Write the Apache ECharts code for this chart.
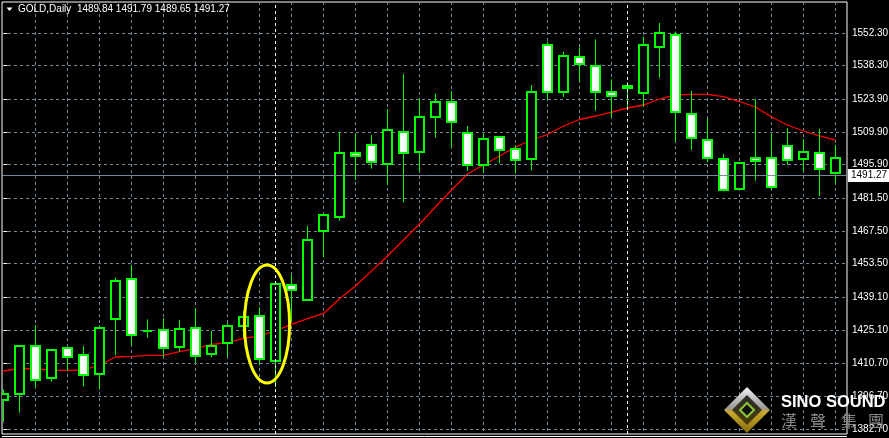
<!DOCTYPE html>
<html><head><meta charset="utf-8">
<script src="https://cdn.jsdelivr.net/npm/echarts@6/dist/echarts.min.js"></script>
<style>html,body{margin:0;padding:0;background:#000;}#c{width:889px;height:438px;}</style>
</head><body><div id="c"></div>
<script>
// ---- data ----
const symbolTitle = 'GOLD,Daily';
const titleOHLC = '1489.84 1491.79 1489.65 1491.27';
const opens  = [1395.00,1397.56,1418.38,1404.41,1417.26,1414.26,1406.13,1429.68,1446.81,1424.67,
                1424.97,1417.69,1425.83,1414.69,1419.40,1426.68,1430.97,1411.69,1444.24,1437.82,
                1467.63,1473.62,1500.78,1504.20,1496.07,1509.77,1501.46,1516.19,1522.62,1509.34,
                1495.64,1507.63,1502.49,1498.21,1547.03,1527.16,1541.89,1538.04,1526.90,1529.47,
                1526.47,1546.43,1551.31,1517.48,1506.34,1498.21,1485.36,1498.64,1498.64,1503.77,
                1498.21,1500.78,1492.47];
const closes = [1397.56,1418.38,1403.56,1416.41,1413.41,1405.70,1425.83,1445.96,1422.83,1424.67,
                1417.26,1425.40,1413.84,1418.38,1426.68,1430.54,1412.55,1444.67,1442.10,1463.52,
                1474.22,1500.78,1499.49,1496.92,1510.63,1500.78,1516.19,1522.62,1514.05,1495.64,
                1506.77,1502.06,1497.78,1526.90,1526.90,1542.32,1538.89,1526.90,1525.19,1528.61,
                1547.03,1552.17,1518.34,1507.20,1498.64,1484.93,1496.49,1497.35,1486.22,1497.78,
                1501.20,1493.92,1498.64];
const lows   = [1385.80,1389.68,1400.56,1402.96,1407.67,1400.82,1399.70,1414.26,1418.68,1421.80,
                1413.41,1415.80,1411.10,1413.41,1413.66,1421.97,1410.11,1400.56,1429.00,1437.82,
                1456.24,1471.91,1489.34,1494.18,1487.33,1479.62,1492.90,1507.46,1503.35,1493.20,
                1492.47,1496.49,1492.21,1493.32,1523.90,1524.89,1531.44,1519.02,1516.19,1519.32,
                1521.03,1533.15,1505.75,1502.19,1496.92,1484.50,1485.06,1489.04,1485.36,1495.77,
                1492.90,1482.49,1487.93];
const highs  = [1399.70,1418.60,1427.24,1416.96,1417.60,1418.25,1427.11,1447.67,1452.94,1429.68,
                1430.11,1429.38,1434.39,1424.67,1427.97,1433.24,1434.82,1445.00,1448.66,1469.64,
                1474.30,1509.77,1509.34,1508.61,1519.75,1534.74,1524.16,1526.47,1527.46,1512.47,
                1509.34,1507.80,1504.20,1530.03,1548.57,1544.29,1546.17,1549.60,1532.47,1531.19,
                1550.71,1556.58,1552.86,1527.46,1515.47,1500.48,1496.60,1523.90,1509.34,1511.48,
                1506.90,1511.18,1504.33];
const maValues = [1407.54,1408.61,1408.40,1407.97,1407.84,1407.97,1410.11,1413.54,1413.84,1414.26,
                  1414.26,1415.81,1417.09,1418.98,1419.66,1421.54,1422.60,1424.70,1427.50,1430.00,
                  1432.20,1438.50,1443.94,1450.37,1456.79,1463.64,1470.50,1477.78,1485.06,1491.91,
                  1495.77,1499.62,1503.47,1506.47,1508.83,1512.47,1515.25,1516.75,1518.46,1520.18,
                  1521.46,1524.03,1525.75,1526.05,1526.05,1525.02,1522.96,1520.61,1516.32,1512.90,
                  1510.33,1508.19,1506.47];
const yTickLabels = [1382.70,1396.70,1410.70,1425.10,1439.10,1453.50,1467.50,1481.50,1495.90,1509.90,1523.90,1538.30,1552.30];
const xGridIndices = [2,4,6,8,10,12,14,16,18,20,22,24,26,28,30,32,34,36,38,40,42,44,46,48,50,52];
const periodSeparators = [17, 39];
const lastPrice = 1491.27;
const highlightBox = {x0: 15.06, x1: 17.88, y0: 1402.4, y1: 1452.9};

// ---- chart ----
const FONT = '"Liberation Sans", Arial, sans-serif';
const candleData = opens.map((o, i) => [i, o, closes[i], lows[i], highs[i]]);
const maData = maValues.map((v, i) => [i, v]);
const gridLine = {color: '#778899', type: [3, 3], width: 1};

const chart = echarts.init(document.getElementById('c'), null, {renderer: 'canvas'});
chart.setOption({
  animation: false,
  backgroundColor: '#000',
  grid: {left: 2, top: 2, right: 42, bottom: 4, show: true, borderColor: '#fff', borderWidth: 1,
         backgroundColor: '#000', containLabel: false, outerBoundsMode: 'none'},
  xAxis: {
    type: 'value', min: -0.09375, max: 52.71875,
    axisLine: {show: false}, axisLabel: {show: false},
    axisTick: {show: false, customValues: xGridIndices},
    splitLine: {show: true, lineStyle: gridLine}
  },
  yAxis: {
    type: 'value', position: 'right', min: 1380.5586, max: 1565.5768, scale: true,
    axisLine: {show: false},
    axisTick: {show: true, length: 4, lineStyle: {color: '#fff'}, customValues: yTickLabels},
    axisLabel: {customValues: yTickLabels, color: '#fff', fontSize: 10, fontFamily: FONT, margin: 5,
                formatter: v => Number(v).toFixed(2)},
    splitLine: {show: true, lineStyle: gridLine}
  },
  series: [
    {
      type: 'custom', clip: true, z: 3,
      data: candleData,
      encode: {x: 0, y: [1, 2, 3, 4]},
      renderItem: function (params, api) {
        const x = api.value(0), o = api.value(1), c = api.value(2), l = api.value(3), h = api.value(4);
        const po = api.coord([x, o]), pc = api.coord([x, c]), pl = api.coord([x, l]), ph = api.coord([x, h]);
        const cx = Math.round(po[0] - 0.5) + 0.5;
        const top = Math.round(Math.min(po[1], pc[1]));
        const bot = Math.round(Math.max(po[1], pc[1]));
        const bull = c > o;
        return {type: 'group', children: [
          {type: 'line', shape: {x1: cx, y1: ph[1], x2: cx, y2: pl[1]}, style: {stroke: '#00ff00', lineWidth: 1}},
          {type: 'rect', shape: {x: cx - 4.5, y: top, width: 9, height: bot - top},
           style: {fill: bull ? '#000' : '#fff', stroke: '#00ff00', lineWidth: 2}}
        ]};
      }
    },
    {
      type: 'line', data: maData, showSymbol: false, symbol: 'none', z: 2,
      lineStyle: {color: '#ff0000', width: 1.3}, silent: true,
      markLine: {
        silent: true, symbol: ['none', 'none'], animation: false,
        data: [
          {yAxis: lastPrice, lineStyle: {color: '#778899', type: 'solid', width: 1},
           label: {show: true, position: 'end', formatter: lastPrice.toFixed(2), color: '#000',
                   backgroundColor: '#fff', padding: [2, 3, 1, 3], distance: 1, fontSize: 10, fontFamily: FONT}},
          ...periodSeparators.map(k => ({xAxis: k, lineStyle: {color: '#fff', type: [3, 3], width: 1}, label: {show: false}}))
        ]
      }
    }
  ]
});

// ---- annotations / decoration ----
const p0 = chart.convertToPixel({xAxisIndex: 0, yAxisIndex: 0}, [highlightBox.x0, highlightBox.y1]);
const p1 = chart.convertToPixel({xAxisIndex: 0, yAxisIndex: 0}, [highlightBox.x1, highlightBox.y0]);
const ecx = (p0[0] + p1[0]) / 2, ecy = (p0[1] + p1[1]) / 2;
const erx = Math.abs(p1[0] - p0[0]) / 2, ery = Math.abs(p1[1] - p0[1]) / 2;

chart.setOption({
  graphic: [
    {type: 'ellipse', z: 50, shape: {cx: ecx, cy: ecy, rx: erx, ry: ery}, style: {fill: null, stroke: '#ffff00', lineWidth: 3}},
    {type: 'polygon', z: 50, shape: {points: [[6.5, 7.5], [12.5, 7.5], [9.5, 11]]}, style: {fill: '#fff'}},
    {type: 'text', z: 50, x: 18, y: 9, style: {text: symbolTitle + '  ' + titleOHLC, fill: '#fff', font: '10px ' + FONT, verticalAlign: 'middle'}},
    {type: 'line', z: 50, shape: {x1: 2, y1: 436.5, x2: 847, y2: 436.5}, style: {stroke: '#fff', lineWidth: 1}},
    // logo
    {type: 'polygon', z: 60, shape: {points: [[747, 387], [770, 410], [747, 433], [724, 410]]},
     style: {fill: new echarts.graphic.LinearGradient(0, 0, 0, 1, [
       {offset: 0, color: '#f2f2f2'}, {offset: 0.45, color: '#9a9a9a'}, {offset: 0.55, color: '#c9a92a'}, {offset: 1, color: '#8a6d10'}])}},
    {type: 'polygon', z: 61, shape: {points: [[747, 395], [762, 410], [747, 425], [732, 410]]},
     style: {fill: new echarts.graphic.LinearGradient(0, 0, 0, 1, [
       {offset: 0, color: '#2a2a2a'}, {offset: 1, color: '#4a3d08'}])}},
    {type: 'polygon', z: 62, shape: {points: [[747, 403], [754, 410], [747, 417], [740, 410]]},
     style: {fill: '#111', stroke: '#8cc63e', lineWidth: 2}},
    {type: 'text', z: 60, x: 781, y: 402, style: {text: 'SINO SOUND', fill: '#fff', font: 'bold 16.5px "Liberation Sans", Arial, sans-serif', verticalAlign: 'middle'}},
    {type: 'text', z: 60, x: 781, y: 421, style: {text: '漢', fill: '#8a8a8a', font: '16px "Noto Sans CJK TC", sans-serif', verticalAlign: 'middle'}},
    {type: 'text', z: 60, x: 810, y: 421, style: {text: '聲', fill: '#8a8a8a', font: '16px "Noto Sans CJK TC", sans-serif', verticalAlign: 'middle'}},
    {type: 'text', z: 60, x: 841, y: 421, style: {text: '集', fill: '#8a8a8a', font: '16px "Noto Sans CJK TC", sans-serif', verticalAlign: 'middle'}},
    {type: 'text', z: 60, x: 868, y: 421, style: {text: '團', fill: '#8a8a8a', font: '16px "Noto Sans CJK TC", sans-serif', verticalAlign: 'middle'}}
  ]
});
</script>
</body></html>
